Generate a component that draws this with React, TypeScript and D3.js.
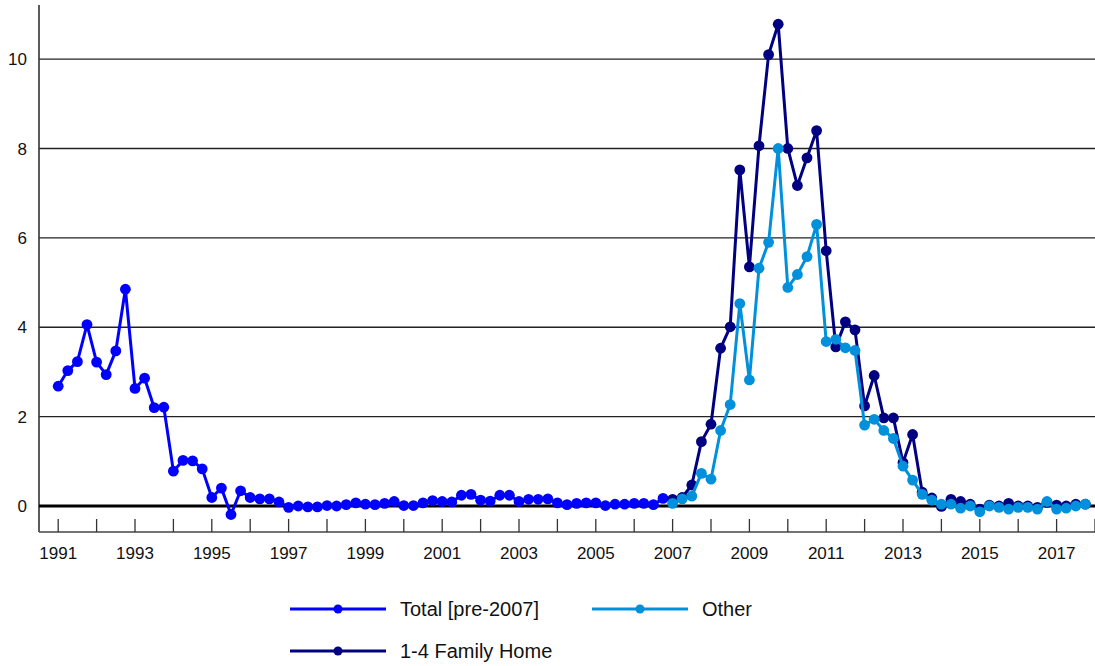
import React from "react";
import * as d3 from "d3";

const START_YEAR = 1991;
const TOTAL_START = 0; // quarter index of first Total point (1991 Q1)
const POST_START = 64; // quarter index of first post-2007 point (2007 Q1)

const totalPre2007 = [
  2.68, 3.03, 3.23, 4.06, 3.22, 2.94, 3.47, 4.85, 2.63, 2.86,
  2.2, 2.21, 0.78, 1.02, 1.01, 0.83, 0.19, 0.4, -0.19, 0.34,
  0.19, 0.16, 0.16, 0.09, -0.03, 0.0, -0.02, -0.02, 0.01, 0.0,
  0.03, 0.07, 0.04, 0.03, 0.06, 0.1, 0.01, 0.01, 0.07, 0.12,
  0.1, 0.09, 0.24, 0.26, 0.13, 0.11, 0.24, 0.24, 0.1, 0.15,
  0.15, 0.16, 0.07, 0.03, 0.06, 0.07, 0.07, 0.01, 0.04, 0.04,
  0.06, 0.06, 0.03, 0.17,
];

const other = [
  0.06, 0.16, 0.22, 0.73, 0.6, 1.69, 2.27, 4.53, 2.82, 5.32,
  5.9, 8.0, 4.89, 5.18, 5.58, 6.3, 3.68, 3.73, 3.54, 3.48,
  1.81, 1.94, 1.69, 1.51, 0.89, 0.58, 0.26, 0.13, 0.04, 0.04,
  -0.05, 0.0, -0.13, 0.0, -0.03, -0.07, -0.03, -0.03, -0.07, 0.1,
  -0.07, -0.05, 0.0, 0.04,
];

const familyHome = [
  0.15, 0.19, 0.47, 1.44, 1.83, 3.53, 4.01, 7.52, 5.35, 8.06,
  10.1, 10.78, 8.0, 7.17, 7.79, 8.4, 5.71, 3.56, 4.12, 3.94,
  2.24, 2.92, 1.97, 1.97, 0.97, 1.6, 0.31, 0.18, -0.01, 0.15,
  0.1, 0.04, -0.07, 0.02, 0.0, 0.06, 0.0, 0.0, -0.03, 0.08,
  0.02, 0.0, 0.04, 0.04,
];

const yTicks = [0, 2, 4, 6, 8, 10];
const xTickYears = d3.range(1991, 2019);
const xLabelYears = d3.range(1991, 2018, 2);

const seriesNames = ["Total [pre-2007]", "Other", "1-4 Family Home"];
const seriesColors = ["#0000ff", "#0090dc", "#000080"];

type Pt = { x: number; v: number };

function toPoints(values: number[], startIdx: number): Pt[] {
  return values.map((v, i) => ({ x: START_YEAR + (startIdx + i) * 0.25, v }));
}

export default function App() {
  const W = 1095;
  const H = 666;
  const left = 39;
  const right = 1095;
  const top = 5;
  const bottom = 532;

  const x = d3.scaleLinear().domain([1990.5, 2018]).range([left, right]);
  const y = d3.scaleLinear().domain([-0.582, 11.21]).range([bottom, top]);

  const line = d3
    .line<Pt>()
    .x((d) => x(d.x))
    .y((d) => y(d.v));

  const series = [
    { name: seriesNames[0], color: seriesColors[0], pts: toPoints(totalPre2007, TOTAL_START) },
    { name: seriesNames[2], color: seriesColors[2], pts: toPoints(familyHome, POST_START) },
    { name: seriesNames[1], color: seriesColors[1], pts: toPoints(other, POST_START) },
  ];

  const font = "'Liberation Sans', Arial, Helvetica, sans-serif";

  const legendItems = [
    { name: seriesNames[0], color: seriesColors[0], lx: 290, ly: 609 },
    { name: seriesNames[1], color: seriesColors[1], lx: 592, ly: 609 },
    { name: seriesNames[2], color: seriesColors[2], lx: 290, ly: 651 },
  ];

  return (
    <svg
      width={W}
      height={H}
      style={{ position: "absolute", left: 0, top: 0, background: "#fff" }}
      fontFamily={font}
    >
      <rect x={0} y={0} width={W} height={H} fill="#fff" />
      {/* gridlines */}
      {yTicks
        .filter((t) => t !== 0)
        .map((t) => (
          <line key={t} x1={left} x2={right} y1={y(t)} y2={y(t)} stroke="#222" strokeWidth={1.4} />
        ))}
      {/* y tick labels */}
      {yTicks.map((t) => (
        <text key={t} x={27} y={y(t)} dy="0.36em" textAnchor="end" fontSize={17} fill="#111">
          {t}
        </text>
      ))}
      {/* axes */}
      <line x1={left} x2={left} y1={top} y2={bottom} stroke="#333" strokeWidth={1.6} />
      <line x1={left} x2={right} y1={bottom} y2={bottom} stroke="#444" strokeWidth={1.6} />
      {xTickYears.map((yr) => (
        <line key={yr} x1={x(yr)} x2={x(yr)} y1={bottom - 13} y2={bottom} stroke="#333" strokeWidth={1.3} />
      ))}
      {xLabelYears.map((yr) => (
        <text key={yr} x={x(yr)} y={559} textAnchor="middle" fontSize={17} fill="#111">
          {yr}
        </text>
      ))}
      {/* zero line */}
      <line x1={left} x2={right} y1={y(0)} y2={y(0)} stroke="#000" strokeWidth={3} />
      {/* series */}
      {series.map((s) => (
        <g key={s.name}>
          <path d={line(s.pts) || ""} fill="none" stroke={s.color} strokeWidth={3} strokeLinejoin="round" />
          {s.pts.map((p, i) => (
            <circle key={i} cx={x(p.x)} cy={y(p.v)} r={5.4} fill={s.color} />
          ))}
        </g>
      ))}
      {/* legend */}
      {legendItems.map((it) => (
        <g key={it.name}>
          <line x1={it.lx} x2={it.lx + 96} y1={it.ly} y2={it.ly} stroke={it.color} strokeWidth={3} />
          <circle cx={it.lx + 48} cy={it.ly} r={4.5} fill={it.color} />
          <text x={it.lx + 110} y={it.ly} dy="0.36em" fontSize={20} fill="#111">
            {it.name}
          </text>
        </g>
      ))}
    </svg>
  );
}
